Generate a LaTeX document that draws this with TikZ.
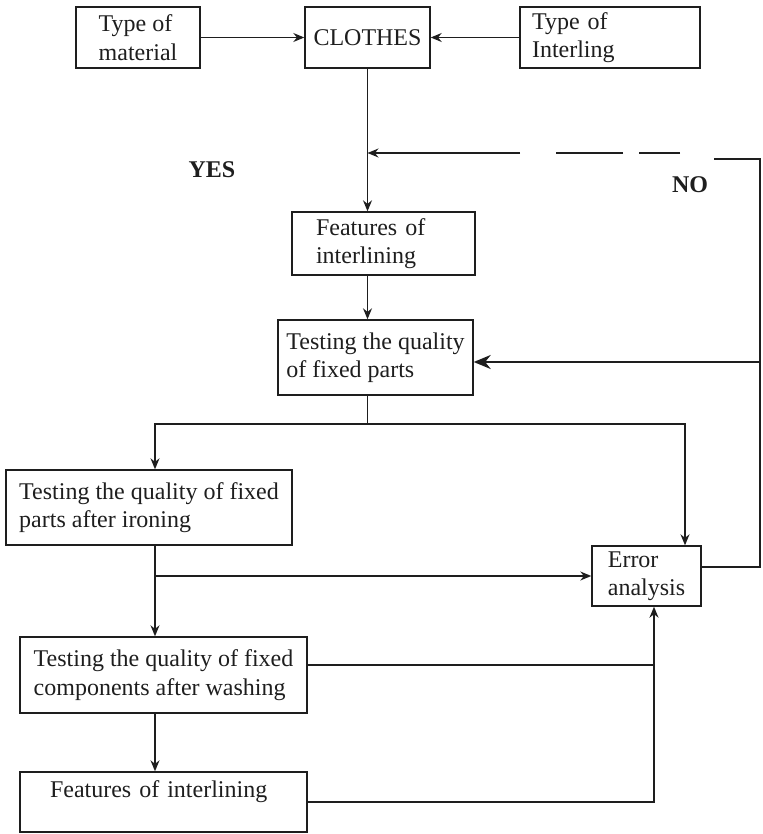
\documentclass[tikz,border=0pt]{standalone}
\usepackage{fontspec}
\setmainfont{Liberation Serif}
\usetikzlibrary{arrows.meta}
\definecolor{ink}{HTML}{1E1E1E}
\begin{document}
\begin{tikzpicture}[x=1pt,y=-1pt, color=ink,
  box/.style={draw, line width=1.4pt, align=left, inner sep=0pt,
    font=\fontsize{24}{28.5}\selectfont},
  link/.style={line width=1.3pt},
  arr/.style={link, -{Stealth[length=11pt,width=9pt]}},
  heavy/.style={line width=2.2pt, -{Stealth[length=17pt,width=14pt]}},
  lab/.style={font=\fontsize{24}{28.5}\selectfont\bfseries}]
\useasboundingbox (0,0) rectangle (762,834);

% boxes
\node[box, minimum width=124pt, minimum height=61pt] (mat) at (138,37.5) {Type of\\material};
\node[box, minimum width=125pt, minimum height=61pt] (cloth) at (367.5,37.5) {CLOTHES};
\node[box, text width=156pt, inner xsep=12pt, minimum height=61pt] (inter) at (610,37.5) {Type of\\Interling};
\node[box, text width=135pt, inner xsep=24pt, minimum height=63pt] (feat1) at (383.5,243.5) {Features of\\interlining};
\node[box, minimum width=195pt, minimum height=75pt] (test) at (375.5,357.5) {Testing the quality\\of fixed parts};
\node[box, minimum width=286pt, minimum height=75pt] (iron) at (149,507.5) {Testing the quality of fixed\\parts after ironing};
\node[box, minimum width=109pt, minimum height=60pt] (err) at (646.5,576) {Error\\analysis};
\node[box, minimum width=287pt, minimum height=76pt] (wash) at (163.5,675) {Testing the quality of fixed\\components after washing};
\node[box, text width=227pt, inner xsep=30pt, minimum height=60pt] (feat2) at (163.5,802)
  {\raisebox{10pt}[\height][\depth]{Features of interlining}};

% labels
\node[lab] (yes) at (212,170) {YES};
\node[lab] (no) at (690,185) {NO};

% helper points
\coordinate (split) at (368,424);
\coordinate (ironx) at ([xshift=6pt]iron.south);
\coordinate (errin) at ([xshift=7.5pt]err.south);
\coordinate (washout) at ([yshift=10pt]wash.east);
\coordinate (errout) at ([yshift=9pt]err.east);
\coordinate (railtop) at (760,159);
\coordinate (railend) at (714,159);
\coordinate (tap) at (760,362);
\coordinate (dA) at (680,153);
\coordinate (dB) at (639,153);
\coordinate (dC) at (623,153);
\coordinate (dD) at (556,153);
\coordinate (dE) at (520,153);

% main flow
\draw[arr] (mat) -- (cloth);
\draw[arr] (inter) -- (cloth);
\draw[arr] (cloth.south) -- (cloth.south |- feat1.north);
\draw[arr] (cloth.south |- feat1.south) -- (cloth.south |- test.north);
\draw[link] (cloth.south |- test.south) -- (cloth.south |- split);
\draw[arr] (cloth.south |- split) -| ([xshift=6pt]iron.north);
\draw[arr] (cloth.south |- split) -| ([xshift=38.5pt]err.north);
\draw[arr] (ironx) -- (ironx |- wash.north);
\draw[arr] (ironx |- err.west) -- (err.west);
\draw[arr] (ironx |- wash.south) -- (ironx |- feat2.north);
\draw[link] (washout) -- (washout -| errin);
\draw[arr] (feat2.east) -| (errin);

% feedback loop
\draw[link] (errout) -- (errout -| railtop) -- (railtop) -- (railend);
\draw[link] (dA) -- (dB);
\draw[link] (dC) -- (dD);
\draw[arr] (dE) -- (cloth.south |- dE);
\draw[heavy] (tap) -- (test.east |- tap);
\end{tikzpicture}
\end{document}
